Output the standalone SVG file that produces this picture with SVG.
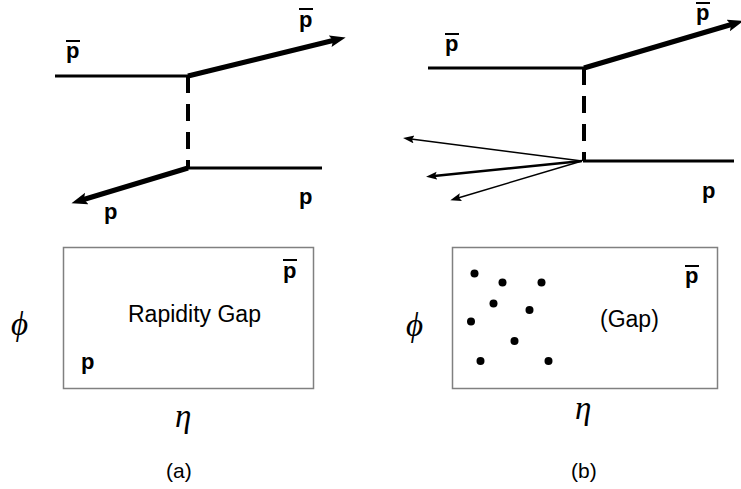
<svg xmlns="http://www.w3.org/2000/svg" width="741" height="489" viewBox="0 0 741 489">
<style>
.bg{fill:#fff}
.thin{stroke:#000;stroke-width:3;fill:none}
.thick{stroke:#000;stroke-width:5;fill:none}
.dash{stroke:#000;stroke-width:4;stroke-dasharray:17 11;fill:none}
.fine{stroke:#000;stroke-width:1.5;fill:none}
.fine2{stroke:#000;stroke-width:2.5;fill:none}
.box{fill:#fff;stroke:#808080;stroke-width:1.5}
.lbl{font-family:"Liberation Sans",Arial,sans-serif;font-weight:bold;font-size:22px;fill:#000}
.txt{font-family:"Liberation Sans",Arial,sans-serif;font-size:23px;fill:#000}
.cap{font-family:"Liberation Sans",Arial,sans-serif;font-size:21px;fill:#000}
.greek{font-family:"Liberation Serif","Times New Roman",serif;font-style:italic;font-size:33px;fill:#000}
.bar{stroke:#000;stroke-width:2}
.dot{fill:#000}
</style>
<defs>
<marker id="big" markerUnits="userSpaceOnUse" markerWidth="18" markerHeight="14" refX="5" refY="6" orient="auto">
<path d="M0,0 L16,6 L0,12 L3,6 z" fill="#000"/>
</marker>
<marker id="small" markerUnits="userSpaceOnUse" markerWidth="12" markerHeight="10" refX="3" refY="4" orient="auto">
<path d="M0,0 L11,4 L0,8 L2,4 z" fill="#000"/>
</marker>
</defs>
<rect class="bg" x="0" y="0" width="741" height="489"/>
<g id="connectors">
<line class="thin" x1="55" y1="76" x2="189" y2="76"/>
<line class="thick" x1="188" y1="76" x2="335" y2="40" marker-end="url(#big)"/>
<line class="dash" x1="188" y1="76" x2="188" y2="168"/>
<line class="thin" x1="187" y1="168" x2="322" y2="168"/>
<line class="thick" x1="188" y1="168" x2="82" y2="200" marker-end="url(#big)"/>
<line class="thin" x1="428" y1="68" x2="585" y2="68"/>
<line class="thick" x1="584" y1="68" x2="733" y2="24" marker-end="url(#big)"/>
<line class="dash" x1="584" y1="68" x2="584" y2="161"/>
<line class="thin" x1="583" y1="161" x2="734" y2="161"/>
<line class="fine" x1="582" y1="161" x2="411" y2="139" marker-end="url(#small)"/>
<line class="fine2" x1="582" y1="161" x2="434" y2="176" marker-end="url(#small)"/>
<line class="fine" x1="582" y1="161" x2="458" y2="198" marker-end="url(#small)"/>
</g>
<g id="labels-a">
<text class="lbl" x="66" y="58">p</text><line class="bar" x1="66" y1="41" x2="80" y2="41"/>
<text class="lbl" x="299" y="27">p</text><line class="bar" x1="299" y1="9" x2="313" y2="9"/>
<text class="lbl" x="299" y="204">p</text>
<text class="lbl" x="104" y="219">p</text>
</g>
<g id="labels-b">
<text class="lbl" x="445" y="51">p</text><line class="bar" x1="445" y1="34" x2="459" y2="34"/>
<text class="lbl" x="696" y="20">p</text><line class="bar" x1="696" y1="3" x2="710" y2="3"/>
<text class="lbl" x="702" y="198">p</text>
</g>
<g id="box-a">
<rect class="box" x="63.5" y="247.5" width="250" height="141"/>
<text class="lbl" x="283" y="278">p</text><line class="bar" x1="283" y1="260" x2="297" y2="260"/>
<text class="txt" x="128" y="322">Rapidity Gap</text>
<text class="lbl" x="81" y="369">p</text>
<text class="greek" x="11" y="335">ϕ</text>
<text class="greek" x="175" y="427">η</text>
<text class="cap" x="166" y="478">(a)</text>
</g>
<g id="box-b">
<rect class="box" x="452.5" y="247.5" width="265" height="141"/>
<text class="lbl" x="685" y="283">p</text><line class="bar" x1="685" y1="266" x2="699" y2="266"/>
<text class="txt" x="600" y="327">(Gap)</text>
<circle class="dot" cx="474.5" cy="273.5" r="4"/>
<circle class="dot" cx="502.5" cy="282.5" r="4"/>
<circle class="dot" cx="541.5" cy="282.5" r="4"/>
<circle class="dot" cx="493.5" cy="303.5" r="4"/>
<circle class="dot" cx="529.5" cy="310" r="4"/>
<circle class="dot" cx="471" cy="321.5" r="4"/>
<circle class="dot" cx="514.5" cy="341" r="4"/>
<circle class="dot" cx="480.5" cy="361" r="4"/>
<circle class="dot" cx="548.5" cy="361" r="4"/>
<text class="greek" x="406" y="336">ϕ</text>
<text class="greek" x="575" y="419">η</text>
<text class="cap" x="571" y="478">(b)</text>
</g>
</svg>
